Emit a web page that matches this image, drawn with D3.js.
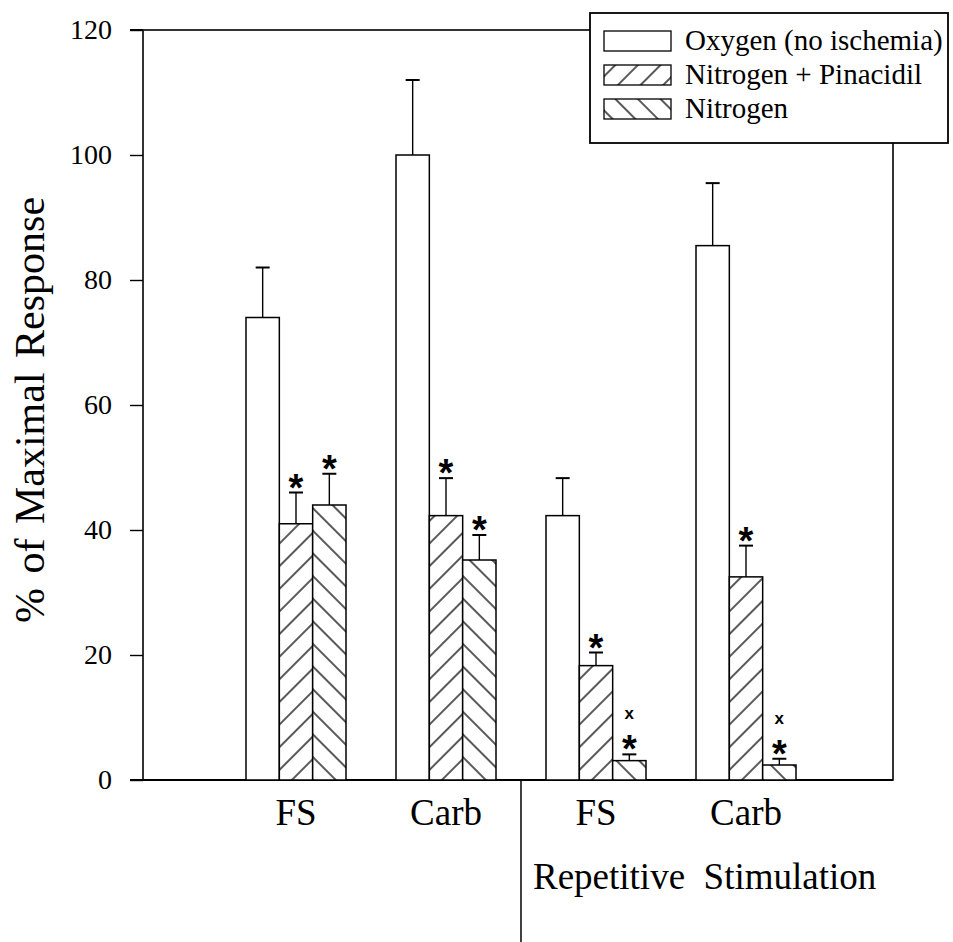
<!DOCTYPE html>
<html>
<head>
<meta charset="utf-8">
<script src="https://cdnjs.cloudflare.com/ajax/libs/d3/7.8.5/d3.min.js"></script>
<style>
  body { margin: 0; background: #fff; }
  svg text { font-family: "Liberation Serif", "Times New Roman", serif; fill: #000; }
</style>
</head>
<body>
<svg id="chart" width="953" height="942"></svg>
<script>
// data
var categories = ["FS", "Carb", "FS", "Carb"];
var seriesNames = ["Oxygen (no ischemia)", "Nitrogen + Pinacidil", "Nitrogen"];
var oxygen = [74, 100, 42.3, 85.5];
var oxygenErr = [8, 12, 6, 10];
var nitroPin = [41, 42.3, 18.3, 32.5];
var nitroPinErr = [5, 6, 2.1, 5];
var nitrogen = [44, 35.2, 3.1, 2.4];
var nitrogenErr = [5, 4, 1, 1];
var starMarks = [[0, 0, 0, 0], [1, 1, 1, 1], [1, 1, 1, 1]];
var xMarks = [[0, 0, 0, 0], [0, 0, 0, 0], [0, 0, 1, 1]];
var yTicks = [0, 20, 40, 60, 80, 100, 120];
var groupTitle = "Repetitive  Stimulation";
var yTitle = "% of Maximal Response";

var values = [oxygen, nitroPin, nitrogen];
var errs = [oxygenErr, nitroPinErr, nitrogenErr];
var fills = ["#fff", "url(#hatchFwd)", "url(#hatchBack)"];

var svg = d3.select("#chart");
var plotL = 143, plotR = 893, plotT = 30, plotB = 780;

var y = d3.scaleLinear().domain([0, 120]).range([plotB, plotT]);
var x0 = d3.scaleBand().domain(d3.range(categories.length))
    .range([221, 821]).paddingInner(1 / 3).paddingOuter(1 / 6);
var x1 = d3.scaleBand().domain(d3.range(seriesNames.length))
    .range([0, x0.bandwidth()]);

// hatch patterns
var defs = svg.append("defs");
function hatch(id, angle) {
    var p = defs.append("pattern")
        .attr("id", id)
        .attr("patternUnits", "userSpaceOnUse")
        .attr("width", 16).attr("height", 16)
        .attr("patternTransform", "rotate(" + angle + ")");
    p.append("rect").attr("width", 16).attr("height", 16).attr("fill", "#fff");
    p.append("line").attr("x1", 8).attr("x2", 8).attr("y1", 0).attr("y2", 16)
        .attr("stroke", "#000").attr("stroke-width", 1.3);
}
hatch("hatchFwd", 45);
hatch("hatchBack", -45);

// frame
svg.append("rect")
    .attr("x", plotL).attr("y", plotT)
    .attr("width", plotR - plotL).attr("height", plotB - plotT)
    .attr("fill", "none").attr("stroke", "#000").attr("stroke-width", 1.6);

// y axis
var yAxis = svg.append("g")
    .attr("transform", "translate(" + plotL + ",0)")
    .call(d3.axisLeft(y).tickValues(yTicks).tickSize(13).tickPadding(18).tickFormat(d3.format("d")));
yAxis.select(".domain").remove();
yAxis.selectAll(".tick line").attr("stroke", "#000").attr("stroke-width", 1.4);
yAxis.selectAll(".tick text")
    .style("font-family", "'Liberation Serif', serif")
    .style("font-size", "28px");

svg.append("line")
    .attr("x1", plotL - 13).attr("x2", plotR)
    .attr("y1", plotB).attr("y2", plotB)
    .attr("stroke", "#000").attr("stroke-width", 2);
svg.append("line")
    .attr("x1", plotL - 13).attr("x2", plotL)
    .attr("y1", plotT).attr("y2", plotT)
    .attr("stroke", "#000").attr("stroke-width", 2);

// bars
var groups = svg.selectAll(".grp")
    .data(categories).enter().append("g")
    .attr("class", "grp")
    .attr("transform", function (d, i) { return "translate(" + x0(i) + ",0)"; });

groups.each(function (cat, gi) {
    var g = d3.select(this);
    seriesNames.forEach(function (s, si) {
        var v = values[si][gi], e = errs[si][gi];
        var bx = x1(si), bw = x1.bandwidth(), cx = bx + bw / 2;
        g.append("line")
            .attr("x1", cx).attr("x2", cx)
            .attr("y1", y(v)).attr("y2", y(v + e))
            .attr("stroke", "#000").attr("stroke-width", 1.4);
        g.append("line")
            .attr("x1", cx - 7).attr("x2", cx + 7)
            .attr("y1", y(v + e)).attr("y2", y(v + e))
            .attr("stroke", "#000").attr("stroke-width", 2);
        g.append("rect")
            .attr("x", bx).attr("y", y(v))
            .attr("width", bw).attr("height", y(0) - y(v))
            .attr("fill", fills[si])
            .attr("stroke", "#000").attr("stroke-width", 1.5);
        if (starMarks[si][gi]) {
            g.append("text")
                .attr("x", cx).attr("y", y(v + e) + 8)
                .attr("text-anchor", "middle")
                .style("font-family", "'Liberation Sans', sans-serif")
                .style("font-weight", "bold")
                .style("font-size", "38px")
                .text("*");
        }
        if (xMarks[si][gi]) {
            g.append("text")
                .attr("x", cx).attr("y", y(v + e) - 35)
                .attr("text-anchor", "middle")
                .style("font-family", "'Liberation Sans', sans-serif")
                .style("font-weight", "bold")
                .style("font-size", "17px")
                .text("x");
        }
    });
});

// category labels
svg.selectAll(".cat")
    .data(categories).enter().append("text")
    .attr("class", "cat")
    .attr("x", function (d, i) { return x0(i) + x0.bandwidth() / 2; })
    .attr("y", 825)
    .attr("text-anchor", "middle")
    .style("font-size", "37px")
    .text(function (d) { return d; });

// divider between normal and repetitive stimulation
var divX = x0(2) - x0.step() * x0.paddingInner() / 2;
svg.append("line")
    .attr("x1", divX).attr("x2", divX)
    .attr("y1", plotB).attr("y2", 942)
    .attr("stroke", "#000").attr("stroke-width", 1.5);

svg.append("text")
    .attr("x", 533).attr("y", 889)
    .style("font-size", "37px")
    .style("white-space", "pre")
    .attr("xml:space", "preserve")
    .text(groupTitle);

// y title
svg.append("text")
    .attr("transform", "translate(44," + ((plotT + plotB) / 2 + 5) + ") rotate(-90)")
    .attr("text-anchor", "middle")
    .style("font-size", "42px")
    .style("word-spacing", "4px")
    .text(yTitle);

// legend
var lg = svg.append("g").attr("transform", "translate(590,13)");
lg.append("rect")
    .attr("width", 358).attr("height", 130)
    .attr("fill", "#fff").attr("stroke", "#000").attr("stroke-width", 1.8);
var items = lg.selectAll(".leg")
    .data(seriesNames).enter().append("g")
    .attr("class", "leg")
    .attr("transform", function (d, i) { return "translate(14," + (18 + i * 34) + ")"; });
items.append("rect")
    .attr("width", 67).attr("height", 20)
    .attr("fill", function (d, i) { return fills[i]; })
    .attr("stroke", "#000").attr("stroke-width", 1.3);
items.append("text")
    .attr("x", 81).attr("y", 19)
    .style("font-size", "29px")
    .text(function (d) { return d; });
</script>
</body>
</html>
